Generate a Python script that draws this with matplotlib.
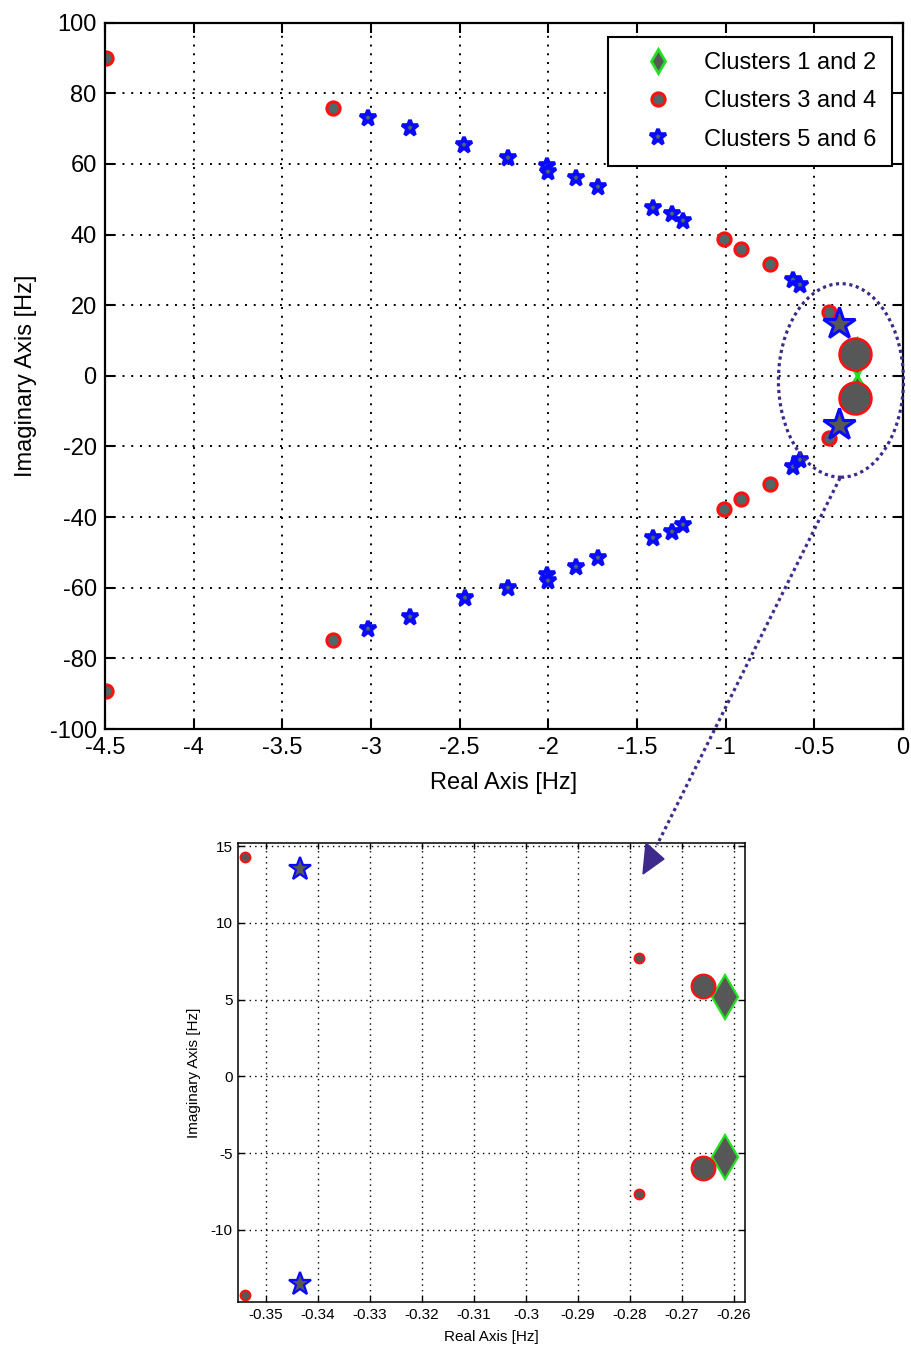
import matplotlib
matplotlib.use('Agg')
import matplotlib.pyplot as plt
import numpy as np
from matplotlib.patches import Ellipse, Polygon
from matplotlib.lines import Line2D

plt.rcParams['font.family'] = ['Liberation Sans', 'DejaVu Sans']
plt.rcParams['axes.unicode_minus'] = False

# eigenvalues, real part [Hz] / imaginary part [Hz]
# clusters 3 and 4 (red circles)
c34_re = [-4.494, -3.216, -1.007, -0.913, -0.749, -0.417,
          -4.494, -3.216, -1.007, -0.913, -0.749, -0.417]
c34_im = [90.1, 75.8, 38.7, 35.8, 31.6, 18.2,
          -89.2, -74.8, -37.8, -35.0, -30.7, -17.7]
# clusters 5 and 6 (blue stars)
c56_re = [-3.018, -2.78, -2.475, -2.229, -2.01, -2.00, -1.845, -1.721,
          -1.411, -1.304, -1.242, -0.62, -0.58,
          -3.018, -2.78, -2.47, -2.229, -2.01, -2.00, -1.845, -1.721,
          -1.411, -1.304, -1.242, -0.62, -0.58]
c56_im = [72.9, 70.1, 65.4, 61.6, 59.4, 57.7, 55.9, 53.4,
          47.4, 45.7, 43.9, 27.1, 25.7,
          -71.6, -68.4, -63.0, -60.2, -56.4, -58.0, -54.0, -51.6,
          -46.0, -44.1, -42.2, -25.8, -23.8]
# dominant modes close to the imaginary axis
dom12_re = [-0.262, -0.262]
dom12_im = [5.2, -5.2]
dom34_re = [-0.27, -0.27]
dom34_im = [6.2, -6.2]
dom56_re = [-0.36, -0.36]
dom56_im = [14.7, -13.9]

# zoomed view of the dominant region
z12_re = [-0.2618, -0.2618]
z12_im = [5.17, -5.23]
z34_re = [-0.266, -0.266]
z34_im = [5.9, -5.99]
z34s_re = [-0.3541, -0.2782, -0.3541, -0.2782]
z34s_im = [14.28, 7.7, -14.22, -7.68]
z56_re = [-0.3434, -0.3434]
z56_im = [13.5, -13.5]

RED = '#ff1010'
BLUE = '#0a0aff'
GREEN = '#22e022'
FACE = '#4f6767'
GRAY = '#575757'
PURPLE = '#3d2a8c'

W, H = 911, 1353
fig = plt.figure(figsize=(W / 100, H / 100), dpi=100)

def fx(px):
    return px / W

def fy(py):
    return 1 - py / H

# ---------------- main pole map ----------------
ax = fig.add_axes([fx(105), fy(729), fx(903) - fx(105), fy(22.7) - fy(729)])
ax.plot(dom12_re, dom12_im, 'd', ms=19, mfc=GRAY, mec=GREEN, mew=2, ls='none')
ax.plot(c34_re, c34_im, 'o', ms=9.5, mfc=FACE, mec=RED, mew=2.2, ls='none')
ax.plot(c56_re, c56_im, '*', ms=12, mfc=FACE, mec=BLUE, mew=2.6, ls='none')
ax.plot(dom34_re, dom34_im, 'o', ms=23, mfc=GRAY, mec=RED, mew=1.8, ls='none')
ax.plot(dom56_re, dom56_im, '*', ms=24, mfc=GRAY, mec=BLUE, mew=2.2, ls='none')

ax.set_xlim(-4.5, 0)
ax.set_ylim(-100, 100)
ax.set_xticks(np.arange(-4.5, 0.01, 0.5))
ax.set_yticks(np.arange(-100, 101, 20))
ax.set_xticklabels(['%g' % v for v in np.arange(-4.5, 0.01, 0.5)])
ax.set_yticklabels(['%g' % v for v in np.arange(-100, 101, 20)])
ax.tick_params(direction='in', top=True, right=True, length=7, width=1.5,
               labelsize=17, pad=6)
ax.grid(True, color='k', linestyle=(0, (1, 3.5)), linewidth=1.4)
for s in ax.spines.values():
    s.set_linewidth(1.6)
ax.set_xlabel('Real Axis [Hz]', fontsize=17, labelpad=9)
ax.set_ylabel('Imaginary Axis [Hz]', fontsize=17, labelpad=9)

handles = [
    Line2D([], [], marker='d', ms=12, mfc=GRAY, mec=GREEN, mew=2, ls='none'),
    Line2D([], [], marker='o', ms=9.5, mfc=FACE, mec=RED, mew=2.2, ls='none'),
    Line2D([], [], marker='*', ms=12, mfc=FACE, mec=BLUE, mew=2.6, ls='none'),
]
leg = ax.legend(handles, ['Clusters 1 and 2', 'Clusters 3 and 4', 'Clusters 5 and 6'],
                loc='upper right', bbox_to_anchor=(0.986, 0.980), borderaxespad=0,
                fontsize=17, fancybox=False, framealpha=1, edgecolor='k',
                borderpad=0.65, handlelength=2.97, handletextpad=0.45, labelspacing=0.69)
leg.get_frame().set_linewidth(1.5)

ring = Ellipse((-0.35, -1.3), 0.705, 54.8, fill=False, edgecolor=PURPLE,
               linewidth=2.3, linestyle=(0, (1, 1.1)), clip_on=False, zorder=5)
ax.add_patch(ring)

# ---------------- zoomed pole map ----------------
ax2 = fig.add_axes([fx(238), fy(1302), fx(745) - fx(238), fy(843) - fy(1302)])
ax2.plot(z12_re, z12_im, 'd', ms=22, mfc=GRAY, mec=GREEN, mew=1.6, ls='none')
ax2.plot(z34_re, z34_im, 'o', ms=17, mfc=GRAY, mec=RED, mew=1.6, ls='none')
ax2.plot(z34s_re, z34s_im, 'o', ms=7, mfc=GRAY, mec=RED, mew=1.5, ls='none')
ax2.plot(z56_re, z56_im, '*', ms=17, mfc=GRAY, mec=BLUE, mew=1.6, ls='none')

ax2.set_xlim(-0.3554, -0.2579)
ax2.set_ylim(-14.7, 15.2)
xt = np.arange(-0.35, -0.2595, 0.01)
ax2.set_xticks(xt)
ax2.set_xticklabels(['%g' % round(v, 2) for v in xt])
ax2.set_yticks(np.arange(-10, 16, 5))
ax2.set_yticklabels(['%g' % v for v in np.arange(-10, 16, 5)])
ax2.tick_params(direction='in', top=True, right=True, length=4, width=1,
                labelsize=11, pad=4)
ax2.grid(True, color='k', linestyle=(0, (1, 3)), linewidth=1.0)
for s in ax2.spines.values():
    s.set_linewidth(1.1)
ax2.set_xlabel('Real Axis [Hz]', fontsize=11, labelpad=6)
ax2.set_ylabel('Imaginary Axis [Hz]', fontsize=11, labelpad=7)

# dotted arrow from the ring to the zoomed view
fig.add_artist(Line2D([fx(840), fx(657)], [fy(478), fy(845)], color=PURPLE,
                      linewidth=2.3, linestyle=(0, (1, 1.1)), zorder=6))
fig.add_artist(Polygon([[fx(646), fy(843)], [fx(664), fy(859)], [fx(643), fy(874)]],
                       closed=True, facecolor=PURPLE, edgecolor=PURPLE,
                       transform=fig.transFigure, zorder=6))

fig.savefig('out.png', dpi=100)
